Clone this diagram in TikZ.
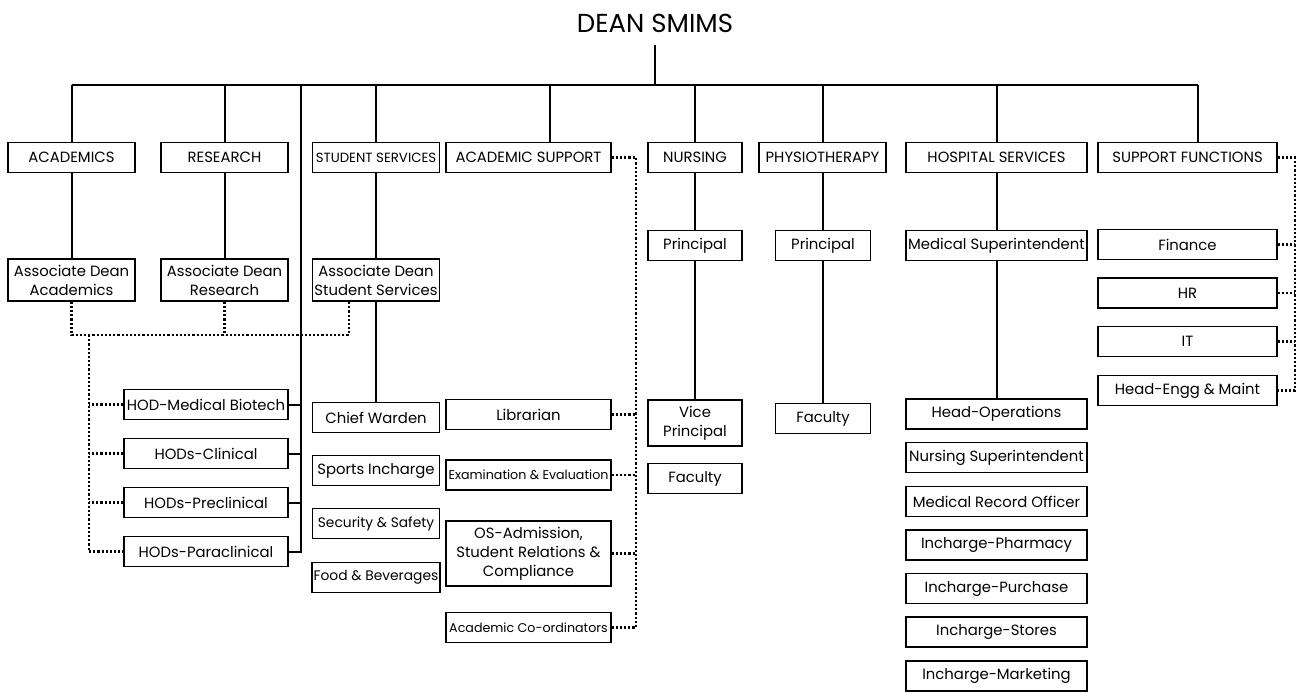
\documentclass[tikz,border=0pt]{standalone}
\usepackage{fontspec}
\setmainfont{Poppins}
\tikzset{
	box/.style={draw, line width=0.8pt, inner sep=1pt, align=center, minimum height=18pt, font=\fontsize{8.9}{11.4}\selectfont},
	tight/.style={font=\fontsize{7.6}{9}\selectfont},
	snug/.style={font=\fontsize{8.3}{10}\selectfont},
	colA/.style={box, minimum width=76.2pt},
	colS/.style={box, minimum width=99pt},
	colN/.style={box, minimum width=56.4pt},
	colP/.style={box, minimum width=57pt},
	colH/.style={box, minimum width=108.6pt},
	colF/.style={box, minimum width=107.4pt},
	colD/.style={box, minimum width=98.4pt},
	link/.style={line width=1.2pt},
	dots/.style={line width=1.4pt, dash pattern=on 1.3pt off 1.2pt},
}
\begin{document}
\begin{tikzpicture}[x=0.6pt, y=-0.6pt]
		\useasboundingbox (0,0) rectangle (1297,691);

		% Top
		\node[font=\fontsize{15.6}{17}\selectfont, anchor=base, inner sep=0pt] (dean) at (655,32) {DEAN SMIMS};
		\coordinate (bus) at (655,85);
		\coordinate (hodbus) at (300.5,85);

		% Departments
		\node[colA] (acad) at (71.5,157.5) {ACADEMICS};
		\node[colA] (res) at (224.5,157.5) {RESEARCH};
		\node[colA, font=\fontsize{8}{9}\selectfont] (ss) at (376,157.5) {STUDENT SERVICES};
		\node[colS] (as) at (528.5,157.5) {ACADEMIC SUPPORT};
		\node[colN] (nurs) at (695,157.5) {NURSING};
		\node[colA] (phys) at (822.5,157.5) {PHYSIOTHERAPY};
		\node[colH] (hosp) at (996.5,157.5) {HOSPITAL SERVICES};
		\node[colF] (sf) at (1187.5,157.5) {SUPPORT FUNCTIONS};

		% Second level
		\node[colA, minimum height=25.2pt] (adacad) at (71.5,280) {Associate Dean\\Academics};
		\node[colA, minimum height=25.2pt] (adres) at (224.5,280) {Associate Dean\\Research};
		\node[colA, minimum height=25.2pt] (adss) at (376,280) {Associate Dean\\Student Services};
		\node[colN] (nprin) at (695,245.5) {Principal};
		\node[colP] (pprin) at (823,245.5) {Principal};
		\node[colH] (medsup) at (996.5,245.5) {Medical Superintendent};
		\node[colF] (fin) at (1187.5,244.5) {Finance};
		\node[colF] (hr) at (1187.5,293) {HR};
		\node[colF] (it) at (1187.5,341.5) {IT};
		\node[colF] (engg) at (1187.5,390.5) {Head-Engg \& Maint};

		% HODs
		\node[colD] (biotech) at (206,404.5) {HOD-Medical Biotech};
		\node[colD] (clin) at (206,453.5) {HODs-Clinical};
		\node[colD] (precl) at (206,502.5) {HODs-Preclinical};
		\node[colD] (paracl) at (206,551.5) {HODs-Paraclinical};

		% Student services
		\node[colA] (warden) at (376,417.5) {Chief Warden};
		\node[colA] (sports) at (376,470.5) {Sports Incharge};
		\node[colA, snug] (security) at (376,523.5) {Security \& Safety};
		\node[colA, snug] (food) at (376,577.5) {Food \& Beverages};

		% Academic support
		\node[colS] (lib) at (528.5,414.5) {Librarian};
		\node[colS, tight] (exam) at (528.5,475) {Examination \& Evaluation};
		\node[colS, minimum height=39pt] (osadm) at (528.5,553.5) {OS-Admission,\\Student Relations \&\\Compliance};
		\node[colS, tight] (coord) at (528.5,627.5) {Academic Co-ordinators};

		% Nursing and physiotherapy
		\node[colN, minimum height=27.6pt] (vp) at (695,423) {Vice\\Principal};
		\node[colN] (nfac) at (695,478.5) {Faculty};
		\node[colP] (pfac) at (823,418.5) {Faculty};

		% Hospital services
		\node[colH] (headops) at (996.5,414) {Head-Operations};
		\node[colH] (nsup) at (996.5,457.5) {Nursing Superintendent};
		\node[colH] (mro) at (996.5,501.5) {Medical Record Officer};
		\node[colH] (pharm) at (996.5,545) {Incharge-Pharmacy};
		\node[colH] (purch) at (996.5,588.5) {Incharge-Purchase};
		\node[colH] (stores) at (996.5,632) {Incharge-Stores};
		\node[colH] (mkt) at (996.5,676) {Incharge-Marketing};

		% Solid lines
		\draw[link] ([yshift=-7.8pt]dean.base) -- (bus);
		\draw[link] (acad.north |- bus) -- ([xshift=6.3pt]sf.north |- bus);
		\foreach \n in {acad, res, ss, nurs, phys, hosp}
			\draw[link] (\n.north |- bus) -- (\n.north);
		\draw[link] ([xshift=12.9pt]as.north |- bus) -- ([xshift=12.9pt]as.north);
		\draw[link] ([xshift=6.3pt]sf.north |- bus) -- ([xshift=6.3pt]sf.north);
		\foreach \a/\b in {acad/adacad, res/adres, ss/adss, adss/warden, nurs/nprin, nprin/vp, phys/pprin, pprin/pfac, hosp/medsup, medsup/headops}
			\draw[link] (\a.south) -- (\a.south |- \b.north);
		\draw[link] (hodbus) |- (paracl.east);
		\foreach \n in {biotech, clin, precl}
			\draw[link] (\n.east) -- (\n.east -| hodbus);

		% Dotted lines
		\coordinate (adlink) at (89,335);
		\draw[dots] (adacad.south) |- ([xshift=-16.2pt]adss.south |- adlink) -- ([xshift=-16.2pt]adss.south);
		\draw[dots] (adres.south) -- (adres.south |- adlink);
		\draw[dots] (adlink) |- (paracl.west);
		\foreach \n in {biotech, clin, precl}
			\draw[dots] (\n.west) -- (\n.west -| adlink);

		\coordinate (aslink) at (636,157.5);
		\draw[dots] (as.east) -- (aslink) |- (coord.east);
		\foreach \n in {lib, exam, osadm}
			\draw[dots] (\n.east) -- (\n.east -| aslink);

		\coordinate (sflink) at (1295,157.5);
		\draw[dots] (sf.east) -- (sflink) |- (engg.east);
		\foreach \n in {fin, hr, it}
			\draw[dots] (\n.east) -- (\n.east -| sflink);
	\end{tikzpicture}
\end{document}
